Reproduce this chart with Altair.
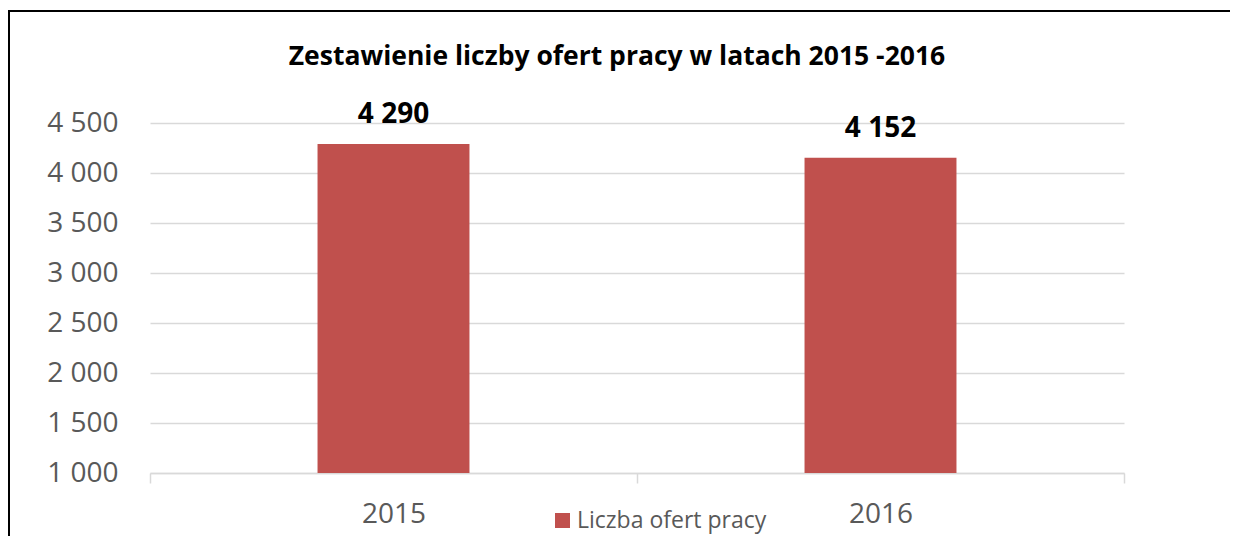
import altair as alt
import pandas as pd

years = ["2015", "2016"]
values = [4290, 4152]
series_name = "Liczba ofert pracy"
y_ticks = [1000, 1500, 2000, 2500, 3000, 3500, 4000, 4500]

df = pd.DataFrame({"year": years, "value": values, "series": [series_name] * len(years)})

FONT = "Open Sans"
W, H = 974, 350

base = alt.Chart(df)

x_enc = alt.X(
    "year:N",
    scale=alt.Scale(paddingInner=0, paddingOuter=0),
    axis=alt.Axis(
        title=None, labelAngle=0, tickBand="extent", domainColor="#d9d9d9",
        domainWidth=1.5, tickColor="#d9d9d9", tickWidth=1.5, tickSize=10,
        labelFontSize=28, labelColor="#595959", labelFont=FONT, labelPadding=17,
        grid=False,
    ),
)

y_enc = alt.Y(
    "value:Q",
    scale=alt.Scale(domain=[1000, 4500], zero=False, nice=False),
    axis=alt.Axis(
        title=None, values=y_ticks, domain=False, ticks=False, grid=True,
        gridColor="#d9d9d9", gridWidth=1.5, labelFontSize=28, labelColor="#595959",
        labelFont=FONT, labelPadding=32,
        labelExpr="replace(format(datum.value, ','), ',', ' ')",
    ),
)

bars = base.mark_bar(clip=False, width=alt.RelativeBandSize(0.312)).encode(
    x=x_enc,
    y=y_enc,
    y2=alt.datum(1000),
    color=alt.Color(
        "series:N",
        scale=alt.Scale(domain=[series_name], range=["#c0504d"]),
        legend=alt.Legend(
            title=None, orient="none", legendX=401, legendY=386,
            symbolType="square", symbolSize=225, symbolStrokeWidth=0,
            labelFontSize=23, labelColor="#595959", labelFont=FONT, labelOffset=3,
            labelLimit=400,
        ),
    ),
)

labels = base.transform_calculate(
    label="replace(format(datum.value, ','), ',', ' ')"
).mark_text(
    fontSize=28, fontWeight="bold", font=FONT, color="black", dy=-21,
    baseline="alphabetic", align="center",
).encode(x="year:N", y="value:Q", text="label:N")

frame = alt.Chart(pd.DataFrame({"f": [0]})).mark_rect(
    fill=None, stroke="black", strokeWidth=2, clip=False
).encode(
    x=alt.value(-141), x2=alt.value(1200), y=alt.value(-112), y2=alt.value(500)
)

chart = alt.layer(frame, bars, labels).properties(
    width=W,
    height=H,
    title=alt.Title(
        "Zestawienie liczby ofert pracy w latach 2015 -2016",
        fontSize=26.5, fontWeight="bold", font=FONT, color="black",
        anchor="middle", frame="group", dx=-20, offset=-60,
    ),
    autosize=alt.AutoSizeParams(type="none"),
    padding={"left": 142, "top": 115, "right": 106, "bottom": 63},
).configure_view(stroke=None)

chart.save("out.html", embed_options={"renderer": "svg", "actions": False})
